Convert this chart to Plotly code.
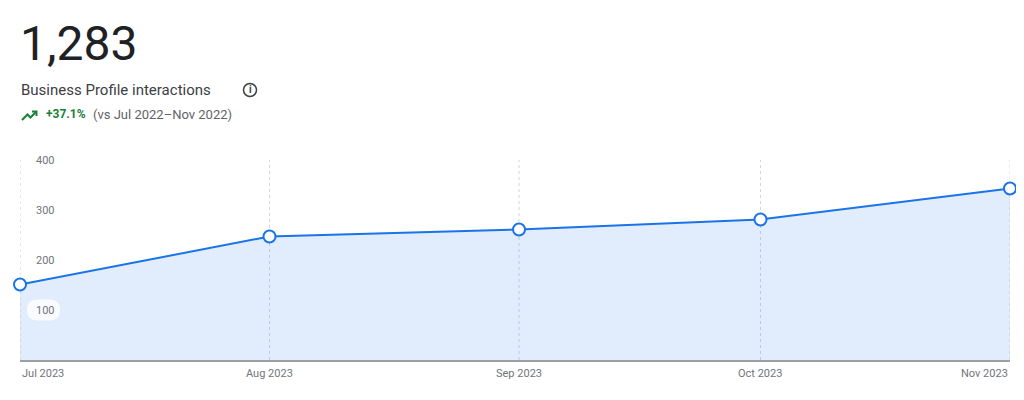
import plotly.graph_objects as go

months = ["2023-07-01", "2023-08-01", "2023-09-01", "2023-10-01", "2023-11-01"]
month_labels = ["Jul 2023", "Aug 2023", "Sep 2023", "Oct 2023", "Nov 2023"]
interactions = [151, 247, 261, 281, 343]
y_ticks = [100, 200, 300, 400]
total_label = "1,283"
metric_title = "Business Profile interactions"
change_label = "+37.1%"
compare_label = "(vs Jul 2022\u2013Nov 2022)"

# page is offset by the default 8px body margin
OFF = 8
W, H = 1024 - OFF, 400 - OFF
PLOT_X0, PLOT_X1 = 20, 1010   # page pixels
PLOT_Y0, PLOT_Y1 = 160, 360
ML = PLOT_X0 - OFF
MR = W - (PLOT_X1 - OFF)
MT = PLOT_Y0 - OFF
MB = H - (PLOT_Y1 - OFF)
PW = PLOT_X1 - PLOT_X0
PH = PLOT_Y1 - PLOT_Y0


def px(x):
    return (x - PLOT_X0) / PW


def py(y):
    return (PLOT_Y1 - y) / PH


BLUE = "#1a73e8"
GRAY = "#5f6368"
FONT = "Roboto"

fig = go.Figure()
fig.add_trace(go.Scatter(
    x=months, y=interactions, mode="lines+markers",
    line=dict(color=BLUE, width=2),
    marker=dict(size=12, color="white", line=dict(color=BLUE, width=2)),
    fill="tozeroy", fillcolor="rgba(26,115,232,0.13)",
    cliponaxis=False, hoverinfo="x+y",
))

ann = []
ann.append(dict(text=total_label, x=px(18), y=py(44), xref="paper", yref="paper",
                xanchor="left", yanchor="middle", showarrow=False,
                font=dict(family=FONT, size=48, color="#202124")))
ann.append(dict(text=metric_title, x=px(19), y=py(90), xref="paper", yref="paper",
                xanchor="left", yanchor="middle", showarrow=False,
                font=dict(family=FONT, size=15, color="#3c4043")))
ann.append(dict(text="<b>i</b>", x=px(250), y=py(90), xref="paper", yref="paper",
                xanchor="center", yanchor="middle", showarrow=False,
                font=dict(family=FONT, size=10, color="#3c4043")))
ann.append(dict(text="<b>" + change_label + "</b>", x=px(44), y=py(114), xref="paper", yref="paper",
                xanchor="left", yanchor="middle", showarrow=False,
                font=dict(family=FONT, size=12, color="#188038")))
ann.append(dict(text=compare_label, x=px(91), y=py(114), xref="paper", yref="paper",
                xanchor="left", yanchor="middle", showarrow=False,
                font=dict(family=FONT, size=13, color=GRAY)))

shapes = []
for m in months:
    shapes.append(dict(type="line", xref="x", yref="paper", x0=m, x1=m, y0=0, y1=1,
                       layer="below", line=dict(color="#d3d6da", width=1, dash="3px,3px")))

# y tick labels on rounded pills
for v in y_ticks:
    cy = PLOT_Y1 - v * PH / 400
    x0, x1, y0, y1, r = 27, 60, cy - 10.5, cy + 10.5, 10.5
    pts = (f"M {px(x0 + r)},{py(y0)} L {px(x1 - r)},{py(y0)} "
           f"Q {px(x1)},{py(y0)} {px(x1)},{py(cy)} "
           f"Q {px(x1)},{py(y1)} {px(x1 - r)},{py(y1)} "
           f"L {px(x0 + r)},{py(y1)} "
           f"Q {px(x0)},{py(y1)} {px(x0)},{py(cy)} "
           f"Q {px(x0)},{py(y0)} {px(x0 + r)},{py(y0)} Z")
    shapes.append(dict(type="path", path=pts, xref="paper", yref="paper", layer="above",
                       fillcolor="rgba(255,255,255,0.8)", line=dict(width=0)))
    ann.append(dict(text=str(v), x=px(34), y=v, xref="paper", yref="y",
                    xanchor="left", yanchor="middle", showarrow=False,
                    font=dict(family=FONT, size=11, color="#70757a")))

n = len(months)
for i, (m, lab) in enumerate(zip(months, month_labels)):
    anchor = "left" if i == 0 else ("right" if i == n - 1 else "center")
    ann.append(dict(text=lab, x=m, y=py(373), xref="x", yref="paper",
                    xanchor=anchor, yanchor="middle", showarrow=False,
                    font=dict(family=FONT, size=11, color="#70757a")))

shapes.append(dict(type="circle", xref="paper", yref="paper",
                   x0=px(243.5), x1=px(256.5), y0=py(96.5), y1=py(83.5),
                   line=dict(color="#3c4043", width=1.5)))
pts = [(22, 120), (27.5, 114.5), (30.5, 117.5), (36, 112)]
path = "M " + " L ".join(f"{px(a)},{py(b)}" for a, b in pts)
shapes.append(dict(type="path", path=path, xref="paper", yref="paper",
                   line=dict(color="#188038", width=2)))
arrow = [(32, 111.5), (36.5, 111.5), (36.5, 116)]
path2 = "M " + " L ".join(f"{px(a)},{py(b)}" for a, b in arrow)
shapes.append(dict(type="path", path=path2, xref="paper", yref="paper",
                   line=dict(color="#188038", width=2)))

fig.update_layout(
    width=W, height=H,
    margin=dict(l=ML, r=MR, t=MT, b=MB),
    paper_bgcolor="white", plot_bgcolor="white",
    showlegend=False,
    annotations=ann, shapes=shapes,
    xaxis=dict(type="date", range=[months[0], months[-1]],
               showgrid=False, showticklabels=False, ticks="",
               showline=True, linecolor="#9aa0a6", linewidth=1.5,
               zeroline=False, fixedrange=True),
    yaxis=dict(range=[0, 400], showgrid=False, showticklabels=False,
               zeroline=False, showline=False, fixedrange=True),
    font=dict(family=FONT),
)

fig.write_html("out.html")
